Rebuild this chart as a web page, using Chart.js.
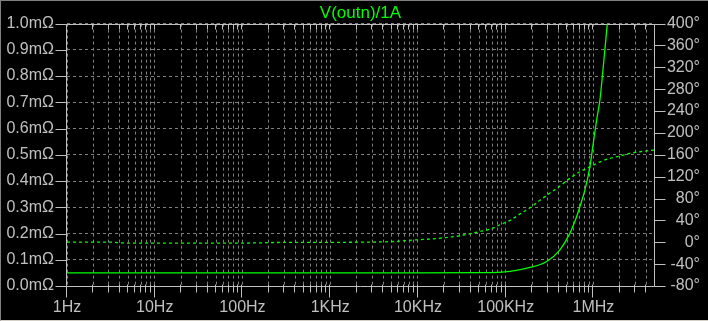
<!DOCTYPE html>
<html>
<head>
<meta charset="utf-8">
<script src="https://cdn.jsdelivr.net/npm/chart.js@4"></script>
<style>
  html, body { margin: 0; padding: 0; background: #000; }
  #wrap { position: relative; width: 708px; height: 321px; }
  #frame { position: absolute; left: 0; top: 0; width: 708px; height: 321px; box-sizing: border-box;
    border-top: 1px solid #808080; border-left: 1px solid #808080; border-bottom: 1px solid #d4d0c8; pointer-events: none; }
</style>
</head>
<body>
<div id="wrap">
  <canvas id="bode" width="708" height="321"></canvas>
  <div id="frame"></div>
</div>
<script>
const titleText = 'V(outn)/1A';

// magnitude (solid, left axis, mOhm)
const freqMag = [1, 10, 100, 1000, 10000, 50900, 112000, 189000, 293000, 415000, 540000, 644000, 702000, 800000, 912000, 995000, 1087000, 1186000, 1294000, 1437000];
const magValues = [0.05, 0.05, 0.05, 0.05, 0.05, 0.0506, 0.0555, 0.0707, 0.0935, 0.138, 0.2015, 0.265, 0.303, 0.366, 0.455, 0.544, 0.632, 0.71, 0.835, 0.997];

// phase (dashed, right axis, degrees)
const freqPhase = [1, 3, 5, 100, 250, 2850, 6250, 8800, 12600, 19300, 30200, 42800, 50900, 66300, 86100, 112000, 146000, 189000, 246000, 319000, 415000, 540000, 702000, 912000, 1186000, 1542000, 2000000, 2600000, 3390000, 4900000];
const phaseValues = [0.2, 0.2, -1.5, -1.5, -0.4, 0.3, 2, 4, 5.5, 8, 12, 17, 19.6, 24, 32, 40, 52, 63, 77, 90, 103, 117, 129, 138, 147, 153.6, 157.8, 162.7, 165.6, 168.7];

const decadeValues = [1, 10, 100, 1000, 10000, 100000, 1000000];
const xTickLabels = ['1Hz', '10Hz', '100Hz', '1KHz', '10KHz', '100KHz', '1MHz'];
const magTicks = [0, 0.1, 0.2, 0.3, 0.4, 0.5, 0.6, 0.7, 0.8, 0.9, 1.0];
const magTickLabels = ['0.0mΩ', '0.1mΩ', '0.2mΩ', '0.3mΩ', '0.4mΩ', '0.5mΩ', '0.6mΩ', '0.7mΩ', '0.8mΩ', '0.9mΩ', '1.0mΩ'];
const phaseTicks = [-80, -40, 0, 40, 80, 120, 160, 200, 240, 280, 320, 360, 400];
const phaseTickLabels = ['-80°', '-40°', '0°', '40°', '80°', '120°', '160°', '200°', '240°', '280°', '320°', '360°', '400°'];

const fMin = 1, fMax = 4.9e6;
const axisColor = '#c0c0c0';
const gridColor = '#808080';
const traceColor = '#00ff00';
const fontFamily = '"Liberation Sans", Arial, sans-serif';

// every 1..9 position in each decade
const minorFreqs = [];
for (const d of decadeValues) {
  for (let m = 1; m <= 9; m++) {
    if (d * m <= fMax) minorFreqs.push(d * m);
  }
}

const frameAndTicks = {
  id: 'frameAndTicks',
  beforeDatasetsDraw(chart) {
    const { ctx, chartArea: a, scales } = chart;
    ctx.save();
    ctx.strokeStyle = axisColor;
    ctx.lineWidth = 1;
    ctx.setLineDash([]);
    const L = Math.round(a.left) - 0.5, R = Math.round(a.right) + 0.5;
    const T = Math.round(a.top) + 0.5, B = Math.round(a.bottom) + 0.5;
    ctx.beginPath();
    ctx.rect(L, T, R - L, B - T);
    // left ticks
    for (const v of magTicks) {
      const y = Math.round(scales.y.getPixelForValue(v)) + 0.5;
      ctx.moveTo(L - 11, y); ctx.lineTo(L, y);
    }
    // right ticks
    for (const v of phaseTicks) {
      const y = Math.round(scales.y1.getPixelForValue(v)) + 0.5;
      ctx.moveTo(R, y); ctx.lineTo(R + 11, y);
    }
    // bottom + top ticks
    for (const f of minorFreqs) {
      const x = Math.round(scales.x.getPixelForValue(f)) - 0.5;
      const major = decadeValues.includes(f);
      ctx.moveTo(x, B - 2); ctx.lineTo(x, B + (major ? 11 : 6));
      ctx.moveTo(x, T); ctx.lineTo(x, T + 5);
    }
    ctx.stroke();
    ctx.restore();
  }
};

const magPoints = freqMag.map((f, i) => ({ x: f, y: magValues[i] }));
const phasePoints = freqPhase.map((f, i) => ({ x: f, y: phaseValues[i] }));

new Chart(document.getElementById('bode').getContext('2d'), {
  type: 'line',
  data: {
    datasets: [
      {
        label: 'mag',
        data: magPoints,
        yAxisID: 'y',
        borderColor: traceColor,
        borderWidth: 1.3,
        pointRadius: 0,
        cubicInterpolationMode: 'monotone',
        fill: false
      },
      {
        label: 'phase',
        data: phasePoints,
        yAxisID: 'y1',
        borderColor: traceColor,
        borderWidth: 1.3,
        borderDash: [3, 3],
        pointRadius: 0,
        cubicInterpolationMode: 'monotone',
        fill: false
      }
    ]
  },
  options: {
    responsive: false,
    animation: false,
    events: [],
    layout: { padding: { left: 0, right: 8, top: 0, bottom: 0 } },
    plugins: {
      legend: { display: false },
      tooltip: { enabled: false },
      title: {
        display: true,
        text: titleText,
        color: traceColor,
        fullSize: false,
        font: { family: fontFamily, size: 17, weight: 'normal', lineHeight: 1 },
        padding: { top: 4, bottom: 2 }
      }
    },
    scales: {
      x: {
        type: 'logarithmic',
        min: fMin,
        max: fMax,
        afterBuildTicks: s => { s.ticks = minorFreqs.map(v => ({ value: v })); },
        afterFit: s => { s.height = 35; },
        ticks: {
          autoSkip: false,
          maxRotation: 0,
          color: axisColor,
          padding: 12,
          font: { family: fontFamily, size: 16 },
          callback: (v) => {
            const i = decadeValues.indexOf(v);
            return i >= 0 ? xTickLabels[i] : '';
          }
        },
        grid: { color: gridColor, lineWidth: 1, drawTicks: false },
        border: { display: false, dash: [3, 3] }
      },
      y: {
        position: 'left',
        min: 0,
        max: 1,
        afterBuildTicks: s => { s.ticks = magTicks.map(v => ({ value: v })); },
        afterFit: s => { s.width = 67; },
        ticks: {
          autoSkip: false,
          color: axisColor,
          padding: 13,
          font: { family: fontFamily, size: 16 },
          callback: (v, i) => magTickLabels[i]
        },
        grid: { color: gridColor, lineWidth: 1, drawTicks: false },
        border: { display: false, dash: [3, 3] }
      },
      y1: {
        position: 'right',
        min: -80,
        max: 400,
        afterBuildTicks: s => { s.ticks = phaseTicks.map(v => ({ value: v })); },
        afterFit: s => { s.width = 46; },
        ticks: {
          autoSkip: false,
          color: axisColor,
          crossAlign: 'far',
          padding: 14,
          font: { family: fontFamily, size: 16 },
          callback: (v, i) => phaseTickLabels[i]
        },
        grid: { drawOnChartArea: false, drawTicks: false },
        border: { display: false }
      }
    }
  },
  plugins: [frameAndTicks]
});
</script>
</body>
</html>
